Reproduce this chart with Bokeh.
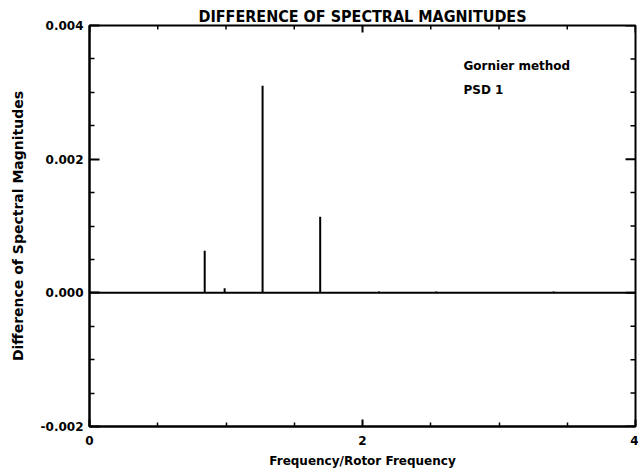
import math
from bokeh.plotting import figure
from bokeh.models import LinearAxis, Range1d, Span, Label, FixedTicker, PrintfTickFormatter
from bokeh.embed import file_html
from bokeh.resources import INLINE

# data
spike_freq = [0.844, 0.99, 1.268, 1.69, 2.12, 2.54, 3.40]
spike_diff = [0.00063, 0.00007, 0.0031, 0.00114, 0.00002, 0.00002, 0.00002]
x_ticks = [0, 2, 4]
x_minor = [0.5, 1.0, 1.5, 2.5, 3.0, 3.5]
y_ticks = [-0.002, 0.0, 0.002, 0.004]
y_minor = [-0.0015, -0.001, -0.0005, 0.0005, 0.001, 0.0015, 0.0025, 0.003, 0.0035]
title = "DIFFERENCE OF SPECTRAL MAGNITUDES"
x_label = "Frequency/Rotor Frequency"
y_label = "Difference of Spectral Magnitudes"
notes = ["Gornier method", "PSD 1"]

FONT = "DejaVu Sans"
X0, X1, Y0, Y1 = 0, 4, -0.002, 0.004

p = figure(width=638, height=470, output_backend="svg", toolbar_location=None,
           x_range=Range1d(X0, X1), y_range=Range1d(Y0, Y1),
           x_axis_location=None, y_axis_location=None,
           min_border_left=89, min_border_right=3, min_border_top=25, min_border_bottom=42)
p.grid.visible = False
p.outline_line_color = "black"
p.outline_line_width = 2
p.background_fill_color = "white"
p.border_fill_color = "white"

p.title.text = title
p.title.align = "center"
p.title.text_font = "DejaVu Sans Condensed"
p.title.text_font_size = "16px"
p.title.text_font_style = "bold"
p.title.text_color = "black"
p.title.standoff = 0
p.title.offset = 0

def style(ax, major_in, minor_in):
    ax.major_tick_in = major_in
    ax.major_tick_out = 0
    ax.minor_tick_in = minor_in
    ax.minor_tick_out = 0
    ax.axis_line_width = 2
    ax.major_tick_line_width = 2
    ax.minor_tick_line_width = 1.5
    ax.major_label_text_font = FONT
    ax.major_label_text_font_style = "bold"
    ax.major_label_text_font_size = "12px"
    ax.major_label_text_color = "black"
    ax.axis_label_text_font = FONT
    ax.axis_label_text_font_style = "bold"
    ax.axis_label_text_color = "black"

xb = LinearAxis(ticker=FixedTicker(ticks=x_ticks, minor_ticks=x_minor), axis_label=x_label)
style(xb, 7, 4)
xb.axis_label_text_font_size = "12px"
xb.major_label_standoff = 9
xb.axis_label_standoff = 6
p.add_layout(xb, "below")

yl = LinearAxis(ticker=FixedTicker(ticks=y_ticks, minor_ticks=y_minor), axis_label=y_label,
                formatter=PrintfTickFormatter(format="%.3f"))
style(yl, 10, 5)
yl.axis_label_text_font_size = "14px"
yl.major_label_orientation = "horizontal"
yl.major_label_standoff = 6
yl.axis_label_standoff = 12
p.add_layout(yl, "left")

# inward ticks on the top and right edges (half of each dash is clipped by the frame)
p.scatter(x=x_ticks, y=[Y1] * len(x_ticks), marker="dash", size=14, angle=math.pi / 2,
          line_color="black", line_width=2)
p.scatter(x=x_minor, y=[Y1] * len(x_minor), marker="dash", size=8, angle=math.pi / 2,
          line_color="black", line_width=1.5)
p.scatter(x=[X1] * len(y_ticks), y=y_ticks, marker="dash", size=20,
          line_color="black", line_width=2)
p.scatter(x=[X1] * len(y_minor), y=y_minor, marker="dash", size=10,
          line_color="black", line_width=1.5)

p.add_layout(Span(location=0, dimension="width", line_color="black", line_width=2))
p.segment(x0=spike_freq, y0=[0] * len(spike_freq), x1=spike_freq, y1=spike_diff,
          line_color="black", line_width=2)

for i, t in enumerate(notes):
    p.add_layout(Label(x=2.74, y=0.00339 - i * 0.00036, text=t,
                       text_font=FONT, text_font_style="bold", text_font_size="12px",
                       text_baseline="alphabetic", text_color="black"))

open("out.html", "w").write(file_html(p, INLINE))
